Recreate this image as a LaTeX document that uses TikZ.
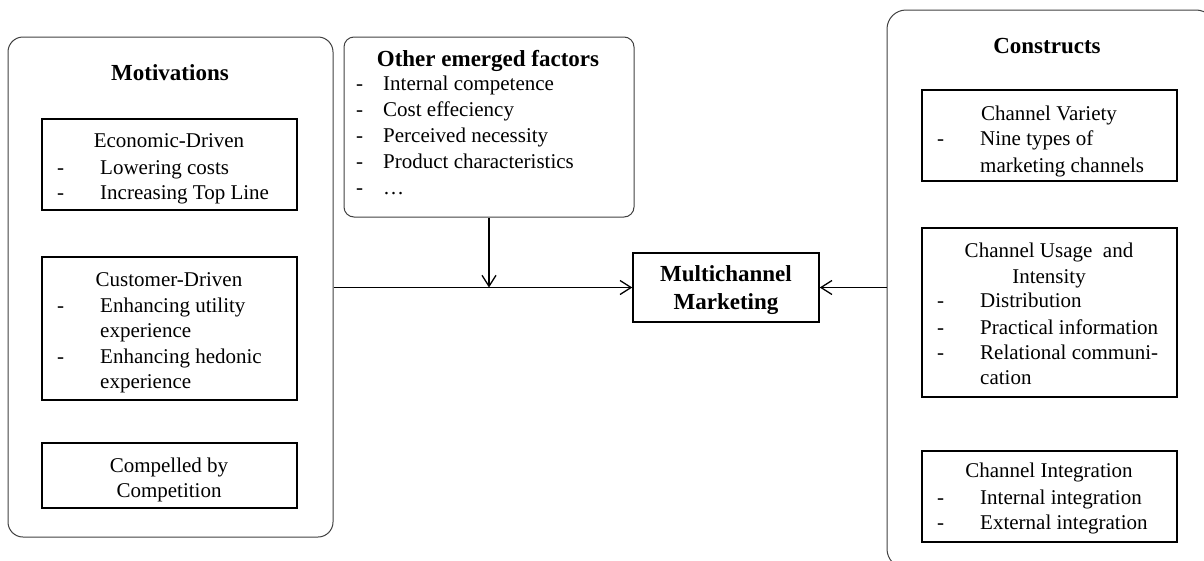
\documentclass[tikz,border=0pt]{standalone}
\usepackage{fontspec}
\setmainfont{Liberation Serif}
\usetikzlibrary{arrows.meta}
\tikzset{
  txt/.style={font=\fontsize{21}{26}\selectfont, inner sep=0pt, anchor=base},
  itm/.style={txt, anchor=base west},
  ttl/.style={font=\bfseries\fontsize{23}{28}\selectfont, inner sep=0pt, anchor=base},
  sqbox/.style={draw=black, line width=1.5pt, minimum width=255pt, inner sep=0pt},
  rbox/.style={draw=black!75, line width=1pt, inner sep=0pt},
  arr/.style={-{Straight Barb[length=11pt,width=14pt,line width=1.3pt]}, line width=1.3pt, black}
}
\newcommand{\dashL}{\llap{-\hspace{36pt}}}
\newcommand{\dashS}{\llap{-\hspace{20pt}}}
\begin{document}
\begin{tikzpicture}[x=1pt,y=-1pt]
\useasboundingbox (0,0) rectangle (1204,560);
\clip (0,0) rectangle (1204,560);

% ---------- left: Motivations ----------
\node[rbox, rounded corners=15pt, minimum width=325pt, minimum height=500pt] (motiv) at (170.5,287) {};
\node[ttl] (tmot) at (170,80) {Motivations};

\node[sqbox, minimum height=91pt] (econ) at (169.5,164.5) {};
\node[txt] (econt) at (169,147) {Economic-Driven};
\node[itm] (econa) at (100,174) {\dashL Lowering costs};
\node[itm] (econb) at (100,199) {\dashL Increasing Top Line};

\node[sqbox, minimum height=143pt] (cust) at (169.5,328.5) {};
\node[txt] (custt) at (169,286) {Customer-Driven};
\node[itm] (custa) at (100,312) {\dashL Enhancing utility};
\node[itm] (custb) at (100,337) {experience};
\node[itm] (custc) at (100,363) {\dashL Enhancing hedonic};
\node[itm] (custd) at (100,388) {experience};

\node[sqbox, minimum height=65pt] (comp) at (169.5,475.5) {};
\node[txt] (compa) at (169,472) {Compelled by};
\node[txt] (compb) at (169,497) {Competition};

% ---------- other emerged factors ----------
\node[rbox, rounded corners=10pt, minimum width=290pt, minimum height=180pt] (other) at (489,127) {};
\node[ttl] (tother) at (488,66) {Other emerged factors};
\node[itm] (oa) at (383,90) {\dashS Internal competence};
\node[itm] (ob) at (383,116) {\dashS Cost effeciency};
\node[itm] (oc) at (383,142) {\dashS Perceived necessity};
\node[itm] (od) at (383,168) {\dashS Product characteristics};
\node[itm] (oe) at (383,194) {\dashS \dots};

% ---------- center ----------
\node[sqbox, minimum width=186pt, minimum height=69pt] (multi) at (726,287.5) {};
\node[ttl] (multa) at (726,281) {Multichannel};
\node[ttl] (multb) at (726,309) {Marketing};

% ---------- right: Constructs ----------
\node[rbox, rounded corners=19pt, minimum width=328pt, minimum height=558pt] (constr) at (1051,289) {};
\node[ttl] (tcon) at (1047,53) {Constructs};

\node[sqbox, minimum height=91pt] (var) at (1049.5,135.5) {};
\node[txt] (vart) at (1049,120) {Channel Variety};
\node[itm] (vara) at (980,145) {\dashL Nine types of};
\node[itm] (varb) at (980,172) {marketing channels};

\node[sqbox, minimum height=169pt] (usage) at (1049.5,312.5) {};
\node[txt] (uset) at (1049,257) {Channel Usage\ \ and};
\node[txt] (uset2) at (1049,283) {Intensity};
\node[itm] (usea) at (980,307) {\dashL Distribution};
\node[itm] (useb) at (980,334) {\dashL Practical information};
\node[itm] (usec) at (980,359) {\dashL Relational communi-};
\node[itm] (used) at (980,384) {cation};

\node[sqbox, minimum height=91pt] (integ) at (1049.5,496.5) {};
\node[txt] (integt) at (1049,477) {Channel Integration};
\node[itm] (intega) at (980,504) {\dashL Internal integration};
\node[itm] (integb) at (980,529) {\dashL External integration};

% ---------- connectors ----------
\coordinate (join) at (other.south |- multi.west);
\draw[line width=1.3pt] (motiv.east |- multi.west) -- (join);
\draw[arr] (join) -- (multi.west);
\draw[arr] (other.south) -- (join);
\draw[arr] (constr.west |- multi.east) -- (multi.east);
\end{tikzpicture}
\end{document}
